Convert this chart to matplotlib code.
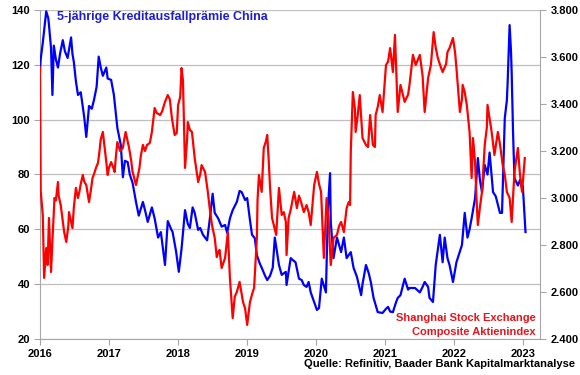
import matplotlib
matplotlib.use('Agg')
import matplotlib.pyplot as plt
from matplotlib.ticker import FuncFormatter

plt.rcParams['font.family'] = ['Liberation Sans', 'DejaVu Sans']
plt.rcParams['font.weight'] = 'bold'

# 5-year CDS China (left axis), decimal years
cds_years = [
    2016.00, 2016.01, 2016.04, 2016.09, 2016.12, 2016.13, 2016.16, 2016.18, 2016.20, 2016.23,
    2016.26, 2016.29, 2016.33, 2016.36, 2016.40, 2016.45, 2016.47, 2016.49, 2016.52, 2016.55,
    2016.59, 2016.64, 2016.67, 2016.71, 2016.75, 2016.78, 2016.82, 2016.85, 2016.88, 2016.91,
    2016.96, 2016.98, 2017.03, 2017.07, 2017.10, 2017.12, 2017.17, 2017.20, 2017.23, 2017.27,
    2017.30, 2017.34, 2017.39, 2017.43, 2017.49, 2017.53, 2017.56, 2017.62, 2017.66, 2017.71,
    2017.75, 2017.81, 2017.85, 2017.90, 2017.92, 2017.97, 2018.01, 2018.05, 2018.10, 2018.14,
    2018.17, 2018.21, 2018.24, 2018.29, 2018.32, 2018.36, 2018.42, 2018.46, 2018.50, 2018.53,
    2018.58, 2018.63, 2018.68, 2018.71, 2018.75, 2018.79, 2018.85, 2018.89, 2018.92, 2018.97,
    2019.00, 2019.04, 2019.07, 2019.11, 2019.14, 2019.18, 2019.21, 2019.26, 2019.29, 2019.33,
    2019.37, 2019.40, 2019.43, 2019.46, 2019.50, 2019.56, 2019.57, 2019.63, 2019.66, 2019.70,
    2019.75, 2019.79, 2019.82, 2019.86, 2019.89, 2019.92, 2019.97, 2020.01, 2020.04, 2020.08,
    2020.14, 2020.17, 2020.20, 2020.21, 2020.25, 2020.30, 2020.36, 2020.40, 2020.44, 2020.50,
    2020.54, 2020.59, 2020.65, 2020.67, 2020.72, 2020.76, 2020.79, 2020.83, 2020.86, 2020.89,
    2020.96, 2021.01, 2021.04, 2021.07, 2021.11, 2021.15, 2021.18, 2021.22, 2021.28, 2021.33,
    2021.35, 2021.43, 2021.50, 2021.54, 2021.57, 2021.62, 2021.64, 2021.69, 2021.73, 2021.79,
    2021.83, 2021.86, 2021.90, 2021.93, 2021.98, 2022.03, 2022.08, 2022.11, 2022.15, 2022.19,
    2022.22, 2022.25, 2022.30, 2022.34, 2022.37, 2022.40, 2022.44, 2022.48, 2022.51, 2022.56,
    2022.60, 2022.63, 2022.66, 2022.69, 2022.73, 2022.76, 2022.77, 2022.80, 2022.82, 2022.83,
    2022.85, 2022.87, 2022.92, 2022.95, 2022.98, 2022.99, 2023.00, 2023.03,
]
cds_values = [
    118, 122, 128, 139.5, 137, 134.5, 126, 109, 127, 122,
    119, 124, 129, 125, 122.5, 130, 124, 121, 114, 109,
    110, 101, 93.7, 105, 104, 107, 112, 123, 119, 116,
    119, 115, 114.5, 109, 102, 97, 90.8, 79, 85, 84.5,
    80, 77, 70, 65, 70, 66, 62.7, 68, 64, 57,
    59, 47, 63, 60, 59, 52, 44.5, 53, 67, 62,
    60.5, 68, 66, 59.8, 60.5, 58, 56, 64, 73, 66,
    64, 61, 61.6, 58.7, 64, 67, 70, 74, 73.6, 70.7,
    71.4, 63.4, 58, 56.8, 50.6, 47.7, 46, 43, 41.5, 43,
    46, 57, 52, 47, 43.4, 44.5, 39.7, 49.5, 48.8, 48,
    42, 41.5, 39.7, 39, 40.8, 37, 33.5, 30.6, 31.3, 42,
    37, 68, 80.5, 62.7, 49.5, 57, 51.7, 57, 49.5, 51.7,
    46, 42.6, 36, 40, 47, 44, 40.8, 35, 32.4, 29.8,
    29.5, 31, 31.7, 30, 29.8, 33, 35, 36, 42, 38,
    38.6, 38.6, 37, 39, 40.8, 39, 35, 33.5, 47, 58,
    48, 57, 49.5, 47, 40.8, 48, 52, 54.3, 66, 57,
    60, 64, 71.4, 86, 78, 73.6, 83.5, 80, 88, 73.6,
    72, 69, 66, 66, 100.6, 107, 112.6, 134.5, 125, 117,
    95, 78.7, 76, 78, 75, 76, 72, 59,
]

# Shanghai Composite (right axis)
sse_years = [
    2016.00, 2016.01, 2016.04, 2016.06, 2016.09, 2016.11, 2016.13, 2016.16, 2016.18, 2016.21,
    2016.23, 2016.26, 2016.27, 2016.30, 2016.33, 2016.35, 2016.38, 2016.41, 2016.42, 2016.45,
    2016.47, 2016.49, 2016.52, 2016.55, 2016.57, 2016.59, 2016.62, 2016.64, 2016.67, 2016.69,
    2016.71, 2016.74, 2016.76, 2016.78, 2016.81, 2016.84, 2016.86, 2016.88, 2016.91, 2016.93,
    2016.96, 2016.98, 2017.00, 2017.03, 2017.06, 2017.08, 2017.10, 2017.12, 2017.16, 2017.20,
    2017.22, 2017.24, 2017.27, 2017.29, 2017.32, 2017.34, 2017.36, 2017.39, 2017.42, 2017.44,
    2017.46, 2017.49, 2017.52, 2017.55, 2017.59, 2017.62, 2017.66, 2017.69, 2017.74, 2017.77,
    2017.81, 2017.85, 2017.88, 2017.91, 2017.95, 2017.98, 2018.00, 2018.03, 2018.05, 2018.07,
    2018.10, 2018.13, 2018.14, 2018.17, 2018.20, 2018.24, 2018.29, 2018.32, 2018.34, 2018.39,
    2018.43, 2018.46, 2018.49, 2018.53, 2018.56, 2018.58, 2018.60, 2018.63, 2018.68, 2018.72,
    2018.75, 2018.79, 2018.82, 2018.85, 2018.89, 2018.94, 2018.97, 2019.00, 2019.04, 2019.08,
    2019.10, 2019.14, 2019.15, 2019.17, 2019.21, 2019.24, 2019.27, 2019.29, 2019.31, 2019.33,
    2019.36, 2019.39, 2019.42, 2019.46, 2019.50, 2019.53, 2019.56, 2019.57, 2019.60, 2019.63,
    2019.68, 2019.72, 2019.75, 2019.78, 2019.82, 2019.86, 2019.89, 2019.92, 2019.97, 2020.01,
    2020.04, 2020.07, 2020.11, 2020.15, 2020.18, 2020.21, 2020.25, 2020.30, 2020.33, 2020.36,
    2020.40, 2020.44, 2020.47, 2020.49, 2020.50, 2020.53, 2020.56, 2020.57, 2020.60, 2020.63,
    2020.67, 2020.72, 2020.75, 2020.78, 2020.82, 2020.85, 2020.86, 2020.89, 2020.92, 2020.96,
    2021.01, 2021.04, 2021.07, 2021.11, 2021.14, 2021.18, 2021.22, 2021.28, 2021.33, 2021.35,
    2021.40, 2021.44, 2021.50, 2021.54, 2021.57, 2021.62, 2021.66, 2021.70, 2021.73, 2021.76,
    2021.80, 2021.83, 2021.88, 2021.90, 2021.93, 2021.98, 2022.01, 2022.03, 2022.08, 2022.11,
    2022.12, 2022.15, 2022.18, 2022.22, 2022.25, 2022.27, 2022.30, 2022.32, 2022.34, 2022.37,
    2022.40, 2022.44, 2022.47, 2022.48, 2022.51, 2022.54, 2022.58, 2022.63, 2022.66, 2022.70,
    2022.73, 2022.76, 2022.80, 2022.83, 2022.87, 2022.92, 2022.95, 2022.98, 2023.00, 2023.02,
]
sse_values = [
    3555, 3030, 2928, 2660, 2787, 2715, 2915, 2685, 2820, 3000,
    2990, 3068, 3010, 2970, 2900, 2855, 2813, 2880, 2940, 2900,
    2872, 2960, 3043, 3000, 3026, 3060, 3098, 3070, 3055, 3020,
    2983, 3040, 3085, 3100, 3128, 3150, 3196, 3250, 3281, 3230,
    3153, 3098, 3130, 3153, 3130, 3111, 3180, 3238, 3200, 3213,
    3250, 3281, 3240, 3213, 3160, 3111, 3090, 3055, 3100, 3128,
    3180, 3226, 3200, 3226, 3234, 3281, 3383, 3362, 3353, 3370,
    3409, 3438, 3420, 3340, 3268, 3277, 3396, 3430, 3553, 3500,
    3128, 3250, 3323, 3290, 3281, 3170, 3068, 3100, 3140, 3111,
    3026, 2950, 2885, 2830, 2749, 2770, 2779, 2702, 2745, 2855,
    2660, 2489, 2580, 2600, 2643, 2557, 2530, 2460, 2557, 2600,
    2617, 2830, 2992, 3098, 3026, 3213, 3240, 3268, 3170, 3050,
    2915, 2880, 2843, 3043, 2928, 2940, 2898, 2757, 2915, 2950,
    3026, 2957, 3010, 2983, 2940, 2970, 2940, 2885, 3055, 3111,
    3060, 3026, 2745, 3000, 2900, 2715, 2830, 2843, 2880, 2898,
    2855, 2957, 2983, 2970, 3196, 3451, 3380, 3281, 3350, 3438,
    3255, 3226, 3217, 3353, 3226, 3217, 3353, 3387, 3438, 3366,
    3566, 3580, 3638, 3536, 3694, 3366, 3481, 3409, 3440, 3481,
    3609, 3566, 3609, 3520, 3366, 3511, 3566, 3706, 3640, 3596,
    3560, 3536, 3570, 3621, 3638, 3681, 3620, 3553, 3366, 3420,
    3481, 3450, 3396, 3281, 3085, 3255, 3150, 3000, 2885, 2960,
    3026, 3226, 3300, 3396, 3340, 3281, 3183, 3281, 3230, 3140,
    3100, 3026, 3000, 2898, 3111, 3213, 3100, 3026, 3100, 3170,
]

year_ticks = [2016, 2017, 2018, 2019, 2020, 2021, 2022, 2023]
left_ticks = [20, 40, 60, 80, 100, 120, 140]
right_ticks = [2400, 2600, 2800, 3000, 3200, 3400, 3600, 3800]

BLUE = '#0000FF'
RED = '#FF0000'
GRID = '#BFBFBF'
SPINE = '#A6A6A6'

fig = plt.figure(figsize=(5.8, 3.75), dpi=100)
ax = fig.add_axes([40 / 580, 36 / 375, 500 / 580, 329 / 375])
ax2 = ax.twinx()

ax.plot(cds_years, cds_values, color=BLUE, linewidth=1.6, zorder=3)
ax2.plot(sse_years, sse_values, color=RED, linewidth=1.6)

ax.set_xlim(2016, 2023.24)
ax.set_ylim(20, 140)
ax2.set_ylim(2400, 3800)

ax.set_xticks(year_ticks)
ax.set_yticks(left_ticks)
ax2.set_yticks(right_ticks)
ax2.yaxis.set_major_formatter(
    FuncFormatter(lambda v, _: f'{int(v):,}'.replace(',', '.')))

ax.grid(axis='y', color=GRID, linewidth=0.9)
ax.set_axisbelow(True)

for a in (ax, ax2):
    a.spines['top'].set_visible(False)
    for s in ('left', 'right', 'bottom'):
        a.spines[s].set_color(SPINE)
    a.tick_params(colors=SPINE, labelcolor='black', labelsize=8,
                  length=4, direction='out')
ax.spines['right'].set_visible(False)
ax2.spines['left'].set_visible(False)
ax2.spines['bottom'].set_visible(False)
ax.tick_params(axis='x', pad=3)
ax.tick_params(axis='y', pad=3)
ax2.tick_params(axis='y', pad=4)

ax.text(0.034, 0.979, '5-jährige Kreditausfallprämie China', transform=ax.transAxes,
        color='#1F1FCF', fontsize=9, fontweight='bold', ha='left', va='center')
ax.text(0.992, 0.064, 'Shanghai Stock Exchange', transform=ax.transAxes,
        color='#E8141C', fontsize=8, fontweight='bold', ha='right', va='center', zorder=5)
ax.text(0.992, 0.021, 'Composite Aktienindex', transform=ax.transAxes,
        color='#E8141C', fontsize=8, fontweight='bold', ha='right', va='center', zorder=5)
fig.text(0.991, 0.029, 'Quelle: Refinitiv, Baader Bank Kapitalmarktanalyse',
         color='black', fontsize=8, fontweight='bold', ha='right', va='center')

fig.savefig('out.png', dpi=100)
